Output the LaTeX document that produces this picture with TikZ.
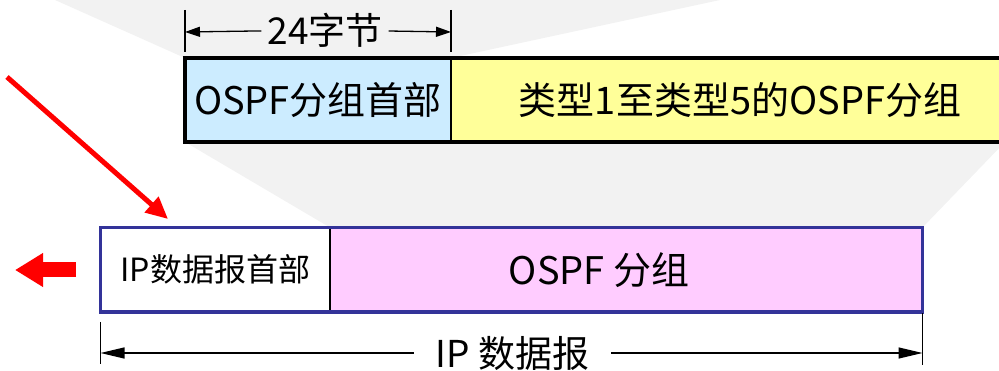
\documentclass[tikz,border=0pt]{standalone}
\usepackage{fontspec}
\newfontfamily\cjkfont{Noto Sans CJK SC}
\usetikzlibrary{positioning, arrows.meta}

\definecolor{hdrblue}{HTML}{CCECFF}
\definecolor{bodyyellow}{HTML}{FFFF99}
\definecolor{ospfpink}{HTML}{FFCCFF}
\definecolor{ipframe}{HTML}{333399}
\definecolor{projgray}{HTML}{F2F2F2}

\begin{document}
\begin{tikzpicture}[
    x=1pt, y=-1pt,
    font=\cjkfont,
    field/.style={
        draw, line width=1.2pt,
        inner sep=0pt, outer sep=0pt,
        font=\cjkfont\fontsize{38}{40}\selectfont
    },
    ospffield/.style={field, minimum height=84pt},
    ipfield/.style={field, minimum height=84.5pt},
    dimlabel/.style={inner ysep=0pt, font=\cjkfont\fontsize{37}{40}\selectfont},
    tick/.style={line width=1.3pt},
    dimarrow/.style={line width=1.3pt, -{Triangle[length=15pt, width=10pt]}},
    longarrow/.style={line width=1.3pt, -{Triangle[length=24pt, width=11pt]}},
    redarrow/.style={red, line width=5pt, -{Triangle[length=22pt, width=20pt]}},
    blockarrow/.style={red, line width=15pt, -{Triangle[length=28pt, width=32pt]}}
]
\useasboundingbox (0,0) rectangle (999,371);
\clip (0,0) rectangle (999,371);

% ===== SHADED PROJECTIONS =====
\fill[projgray] (55,0) -- (720,0) -- (451,58) -- (185,58) -- cycle;
\fill[projgray] (185,142) -- (1005,142) -- (922.5,227.5) -- (330,227.5) -- cycle;

% ===== OSPF PACKET =====
\node[ospffield, fill=hdrblue, minimum width=266pt] (ospfhdr) at (318,100) {OSPF分组首部};
\node[ospffield, fill=bodyyellow, minimum width=578pt, right=0pt of ospfhdr] (ospfbody)
{类型1至类型5的OSPF分组};
\draw[line width=3.5pt] (ospfhdr.north west) rectangle (ospfbody.south east);

% ===== IP DATAGRAM =====
\node[ipfield, fill=white, minimum width=229.5pt,
    font=\cjkfont\fontsize{32}{36}\selectfont] (iphdr) at (215.25,269.75) {IP数据报首部};
\node[ipfield, fill=ospfpink, minimum width=592.5pt, right=0pt of iphdr] (ipdata) {};
\node[font=\cjkfont\fontsize{38}{40}\selectfont] (ipdatalbl) at (599,270) {OSPF 分组};
\draw[ipframe, line width=3.5pt] (iphdr.north west) rectangle (ipdata.south east);

% ===== LENGTH MARKS =====
\node[dimlabel, inner xsep=6pt] (hdrlen) at (325,30) {24字节};
\coordinate (hdrL) at (185,32);
\coordinate (hdrR) at (451,32);
\draw[tick] (185,10) -- (185,52);
\draw[tick] (451,10) -- (451,52);
\draw[dimarrow] (hdrlen) -- (hdrL);
\draw[dimarrow] (hdrlen) -- (hdrR);

\node[dimlabel, inner xsep=22pt] (iplen) at (512.5,353) {IP 数据报};
\coordinate (ipL) at (100.5,353);
\coordinate (ipR) at (922.5,353);
\draw[tick] (100.5,322) -- (100.5,364);
\draw[tick] (922.5,313) -- (922.5,365);
\draw[longarrow] (iplen) -- (ipL);
\draw[longarrow] (iplen) -- (ipR);

% ===== RED ARROWS =====
\coordinate (inA) at (7,77);
\coordinate (inB) at (168,219);
\draw[redarrow] (inA) -- (inB);

\coordinate (outA) at (76,270);
\coordinate (outB) at (15,270);
\draw[blockarrow] (outA) -- (outB);

\end{tikzpicture}
\end{document}
